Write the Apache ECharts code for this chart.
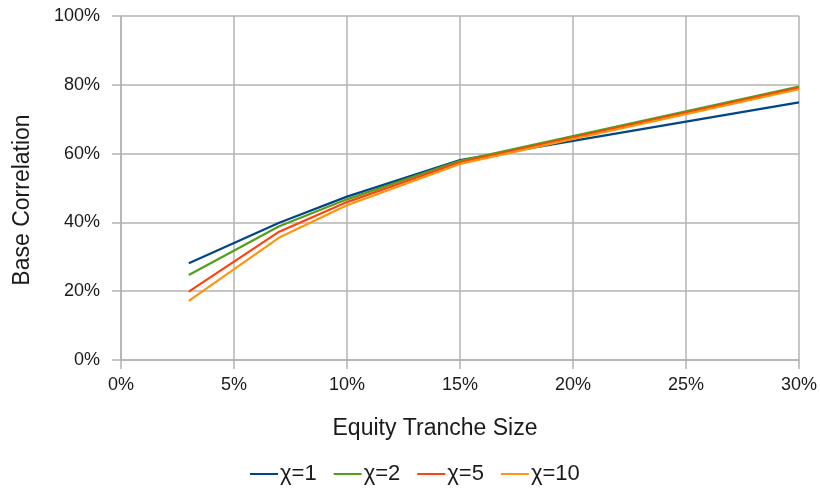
<!DOCTYPE html>
<html><head><meta charset="utf-8">
<script src="https://cdn.jsdelivr.net/npm/echarts@6/dist/echarts.min.js"></script>
<style>html,body{margin:0;padding:0;background:#fff}#c{width:820px;height:492px}</style>
</head><body><div id="c"></div>
<script>
const tranche = [3, 7, 10, 15, 30];
const chi1 = [28.1, 39.9, 47.5, 58.1, 74.9];
const chi2 = [24.7, 38.9, 46.7, 57.9, 79.5];
const chi5 = [19.9, 37.3, 45.9, 57.5, 79.1];
const chi10 = [17.2, 35.6, 45.0, 57.0, 78.7];
const seriesNames = ['χ=1', 'χ=2', 'χ=5', 'χ=10'];
const colors = ['#004586', '#579d1c', '#ff420e', '#ff950e'];
const allData = [chi1, chi2, chi5, chi10];

const chart = echarts.init(document.getElementById('c'));
const font = 'Liberation Sans, Arial, sans-serif';
const txt = '#1a1a1a';
chart.setOption({
  animation: false,
  color: colors,
  grid: {left: 121, right: 20, top: 16, bottom: 132},
  xAxis: {
    type: 'value', min: 0, max: 30, interval: 5,
    name: 'Equity Tranche Size', nameLocation: 'middle', nameGap: 57,
    nameTextStyle: {fontFamily: font, fontSize: 23, color: txt, padding: [0, 50, 0, 0]},
    axisLine: {lineStyle: {color: '#b3b3b3', width: 1.5}},
    axisTick: {show: true, length: 9, lineStyle: {color: '#b3b3b3', width: 1.5}},
    axisLabel: {formatter: '{value}%', fontFamily: font, fontSize: 18, color: txt, margin: 16},
    splitLine: {show: true, lineStyle: {color: '#b3b3b3', width: 1.5}}
  },
  yAxis: {
    type: 'value', min: 0, max: 100, interval: 20,
    name: 'Base Correlation', nameLocation: 'middle', nameGap: 87,
    nameTextStyle: {fontFamily: font, fontSize: 23, color: txt, padding: [0, 24, 0, 0]},
    axisLine: {show: true, lineStyle: {color: '#b3b3b3', width: 1.5}},
    axisTick: {show: true, length: 9, lineStyle: {color: '#b3b3b3', width: 1.5}},
    axisLabel: {formatter: '{value}%', fontFamily: font, fontSize: 18, color: txt, margin: 21},
    splitLine: {show: true, lineStyle: {color: '#b3b3b3', width: 1.5}}
  },
  legend: {
    top: 458, left: 245,
    icon: 'rect', itemWidth: 28, itemHeight: 2, itemGap: 17,
    textStyle: {fontFamily: font, fontSize: 22, color: txt, padding: [0, 0, 0, -3]},
    data: seriesNames
  },
  series: seriesNames.map((n, i) => ({
    name: n, type: 'line', showSymbol: false, symbol: 'none',
    lineStyle: {width: 2.2, color: colors[i]},
    data: tranche.map((x, j) => [x, allData[i][j]])
  }))
});
</script></body></html>
